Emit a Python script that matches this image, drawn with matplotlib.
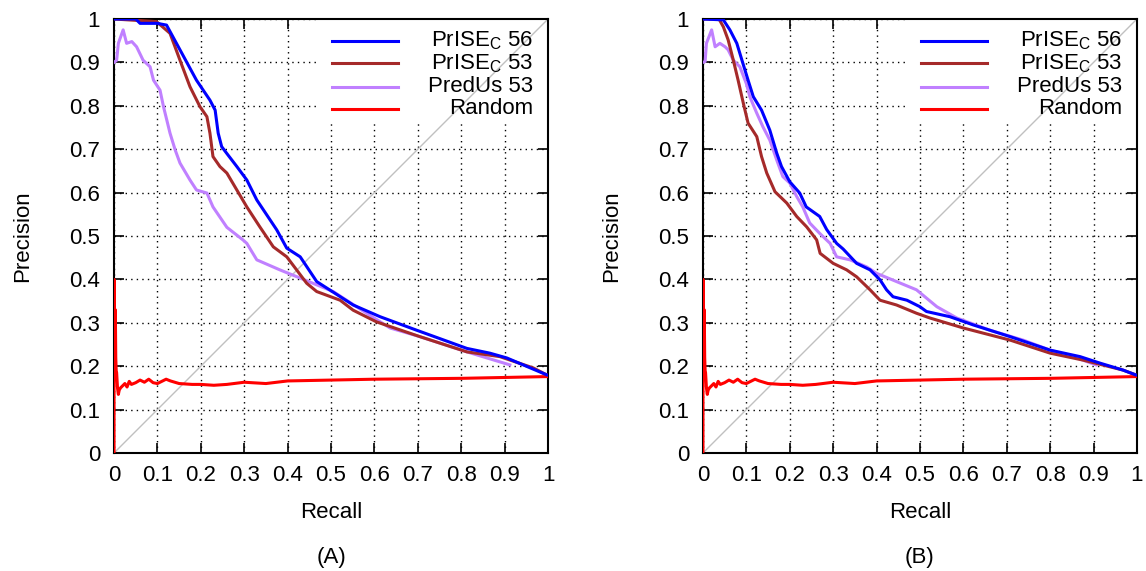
import matplotlib
matplotlib.use("Agg")
import matplotlib.pyplot as plt
from matplotlib.patches import Rectangle

plt.rcParams["font.family"] = ["Liberation Sans", "DejaVu Sans"]

# ---- panel A ----
a_prise56_r = [0.0, 0.05, 0.06, 0.1, 0.121, 0.152, 0.19, 0.221, 0.233, 0.24, 0.248, 0.26,
               0.283, 0.306, 0.329, 0.375, 0.398, 0.429, 0.467, 0.551, 0.613, 0.697,
               0.813, 0.866, 0.905, 0.997]
a_prise56_p = [1.0, 1.0, 0.99, 0.99, 0.986, 0.929, 0.859, 0.813, 0.79, 0.737, 0.706, 0.69,
               0.66, 0.629, 0.583, 0.514, 0.472, 0.452, 0.395, 0.341, 0.314, 0.283,
               0.241, 0.230, 0.219, 0.18]

a_prise53_r = [0.0, 0.098, 0.129, 0.152, 0.175, 0.198, 0.214, 0.221, 0.228, 0.244, 0.26,
               0.283, 0.306, 0.336, 0.367, 0.398, 0.444, 0.467, 0.521, 0.551, 0.605,
               0.705, 0.813, 0.889, 0.966, 0.997]
a_prise53_p = [1.0, 0.994, 0.967, 0.905, 0.844, 0.798, 0.775, 0.737, 0.683, 0.66, 0.645,
               0.606, 0.567, 0.521, 0.475, 0.452, 0.391, 0.372, 0.352, 0.329, 0.302,
               0.268, 0.233, 0.222, 0.196, 0.18]

a_predus_r = [0.0, 0.006, 0.01, 0.021, 0.029, 0.041, 0.052, 0.067, 0.083, 0.091, 0.106,
              0.114, 0.129, 0.141, 0.152, 0.175, 0.19, 0.214, 0.228, 0.26, 0.297, 0.306,
              0.329, 0.382, 0.429, 0.505, 0.582, 0.636, 0.705, 0.813, 0.912]
a_predus_p = [0.90, 0.905, 0.944, 0.975, 0.944, 0.948, 0.936, 0.905, 0.89, 0.859, 0.836,
              0.798, 0.737, 0.698, 0.668, 0.629, 0.606, 0.599, 0.567, 0.52, 0.491, 0.483,
              0.445, 0.422, 0.403, 0.372, 0.322, 0.288, 0.268, 0.233, 0.203]

# ---- panel B ----
b_prise56_r = [0.0, 0.047, 0.062, 0.078, 0.092, 0.104, 0.116, 0.135, 0.154, 0.17, 0.181,
               0.2, 0.223, 0.238, 0.269, 0.285, 0.308, 0.323, 0.354, 0.385, 0.408, 0.423,
               0.438, 0.47, 0.5, 0.515, 0.569, 0.623, 0.708, 0.8, 0.869, 0.915, 0.968, 0.997]
b_prise56_p = [1.0, 0.998, 0.975, 0.944, 0.898, 0.859, 0.821, 0.79, 0.744, 0.691, 0.66,
               0.625, 0.599, 0.567, 0.545, 0.515, 0.483, 0.470, 0.437, 0.422, 0.399, 0.376,
               0.36, 0.352, 0.337, 0.326, 0.314, 0.295, 0.268, 0.237, 0.222, 0.207, 0.191, 0.18]

b_prise53_r = [0.0, 0.037, 0.047, 0.058, 0.07, 0.081, 0.093, 0.104, 0.124, 0.135, 0.147,
               0.166, 0.193, 0.216, 0.239, 0.262, 0.27, 0.3, 0.331, 0.354, 0.385, 0.408,
               0.446, 0.492, 0.523, 0.6, 0.708, 0.8, 0.876, 0.968, 0.997]
b_prise53_p = [1.0, 1.0, 0.982, 0.952, 0.905, 0.859, 0.806, 0.76, 0.729, 0.683, 0.645,
               0.602, 0.576, 0.545, 0.521, 0.491, 0.46, 0.437, 0.422, 0.406, 0.376, 0.352,
               0.341, 0.322, 0.311, 0.288, 0.26, 0.23, 0.214, 0.191, 0.18]

b_predus_r = [0.0, 0.005, 0.008, 0.02, 0.028, 0.039, 0.051, 0.058, 0.07, 0.085, 0.1,
              0.108, 0.124, 0.138, 0.154, 0.17, 0.184, 0.2, 0.216, 0.23, 0.246, 0.269,
              0.293, 0.308, 0.339, 0.377, 0.4, 0.446, 0.492, 0.539, 0.585, 0.661, 0.738,
              0.8, 0.861, 0.906]
b_predus_p = [0.90, 0.902, 0.944, 0.975, 0.936, 0.944, 0.936, 0.929, 0.905, 0.89, 0.851,
              0.821, 0.783, 0.752, 0.721, 0.675, 0.637, 0.622, 0.591, 0.567, 0.53, 0.506,
              0.483, 0.452, 0.445, 0.429, 0.414, 0.395, 0.376, 0.337, 0.311, 0.283, 0.26,
              0.237, 0.219, 0.203]

# ---- random baseline (same in both panels) ----
rand_r = [0.0, 0.0, 0.002, 0.003, 0.004, 0.005, 0.006, 0.008, 0.01, 0.012, 0.015, 0.02,
          0.025, 0.03, 0.035, 0.04, 0.05, 0.06, 0.07, 0.08, 0.09, 0.1, 0.11, 0.12, 0.13,
          0.15, 0.18, 0.2, 0.23, 0.26, 0.3, 0.35, 0.4, 0.5, 0.6, 0.7, 0.8, 0.9, 0.997]
rand_p = [0.0, 0.4, 0.26, 0.33, 0.22, 0.19, 0.185, 0.15, 0.135, 0.145, 0.15, 0.155,
          0.16, 0.152, 0.165, 0.158, 0.162, 0.168, 0.163, 0.17, 0.162, 0.16, 0.165, 0.17,
          0.166, 0.16, 0.158, 0.158, 0.156, 0.158, 0.163, 0.16, 0.166, 0.168, 0.17, 0.171,
          0.172, 0.174, 0.176]

labels = ["PrISE$_\\mathregular{C}$ 56", "PrISE$_\\mathregular{C}$ 53", "PredUs 53", "Random"]
colors = ["#0000ff", "#a52a2a", "#c080ff", "#ff0000"]
ticks = [0, 0.1, 0.2, 0.3, 0.4, 0.5, 0.6, 0.7, 0.8, 0.9, 1.0]
tick_labels = ["0", "0.1", "0.2", "0.3", "0.4", "0.5", "0.6", "0.7", "0.8", "0.9", "1"]

FS = 16


def draw_panel(ax, series, tag):
    ax.set_xlim(0, 1)
    ax.set_ylim(0, 1)
    ax.set_xticks(ticks)
    ax.set_yticks(ticks)
    ax.set_xticklabels(tick_labels)
    ax.set_yticklabels(tick_labels)
    ax.tick_params(direction="in", length=7, width=1.2, top=True, right=True,
                   labelsize=FS)
    ax.tick_params(axis="x", pad=9)
    ax.tick_params(axis="y", pad=10)
    for sp in ax.spines.values():
        sp.set_linewidth(1.5)
    ax.grid(True, color="black", linestyle=(0, (1, 3)), linewidth=1.0, zorder=0)
    ax.set_axisbelow(True)

    # opaque key box that hides the grid
    ax.add_patch(Rectangle((0.467, 0.76), 0.533, 0.24, transform=ax.transAxes,
                           facecolor="white", edgecolor="none", zorder=1.5))
    ax.plot([0, 1], [0, 1], color="#c0c0c0", linewidth=1.0, zorder=1.8)

    for i, (r, p) in enumerate(series):
        ax.plot(r, p, color=colors[i], linewidth=2.2, zorder=3 - i * 0.1)

    key_y = [0.949, 0.898, 0.844, 0.793]
    for i, lab in enumerate(labels):
        ax.plot([0.502, 0.654], [key_y[i], key_y[i]], transform=ax.transAxes,
                color=colors[i], linewidth=2.2, zorder=3)
        ax.text(0.965, key_y[i], lab, transform=ax.transAxes, ha="right",
                va="center", fontsize=FS, zorder=3)

    ax.set_xlabel("Recall", fontsize=FS, labelpad=11)
    ax.set_ylabel("Precision", fontsize=FS, labelpad=26)
    ax.text(0.5, -0.24, tag, transform=ax.transAxes, ha="center", va="center",
            fontsize=FS)


fig = plt.figure(figsize=(11.46, 5.71), dpi=100)
ax_a = fig.add_axes([0.0995, 0.2067, 0.3787, 0.76])
ax_b = fig.add_axes([0.6134, 0.2067, 0.3787, 0.76])

draw_panel(ax_a, [(a_prise56_r, a_prise56_p), (a_prise53_r, a_prise53_p),
                  (a_predus_r, a_predus_p), (rand_r, rand_p)], "(A)")
draw_panel(ax_b, [(b_prise56_r, b_prise56_p), (b_prise53_r, b_prise53_p),
                  (b_predus_r, b_predus_p), (rand_r, rand_p)], "(B)")

fig.savefig("out.png", dpi=100)
